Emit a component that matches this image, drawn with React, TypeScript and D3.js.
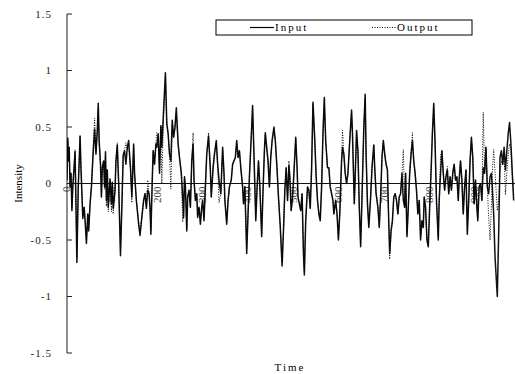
import React from "react";
import * as d3 from "d3";

// sample times
const times = [
  2, 4, 5, 7, 9, 11, 13, 15, 20, 24,
  27, 31, 33, 37, 40, 42, 45, 48, 50, 53,
  56, 60, 63, 66, 69, 71, 73, 76, 78, 80,
  83, 85, 87, 89, 91, 93, 95, 97, 100, 102,
  104, 108, 110, 113, 116, 120, 123, 126, 129, 132,
  135, 138, 142, 145, 149, 151, 155, 160, 163, 167,
  171, 174, 177, 180, 183, 185, 187, 190, 192, 195,
  198, 200, 203, 206, 209, 211, 215, 219, 222, 225,
  228, 231, 234, 237, 240, 243, 247, 250, 254, 257,
  259, 261, 263, 266, 268, 271, 274, 277, 280, 282,
  285, 288, 290, 293, 296, 299, 301, 304, 307, 310,
  314, 318, 320, 324, 327, 331, 334, 337, 341, 345,
  348, 350, 354, 357, 360, 364, 367, 370, 373, 376,
  379, 382, 385, 389, 391, 394, 398, 401, 404, 408,
  411, 414, 418, 421, 424, 427, 431, 434, 437, 439,
  442, 445, 448, 451, 454, 458, 461, 465, 468, 472,
  476, 479, 482, 485, 488, 491, 493, 496, 499, 502,
  506, 509, 511, 514, 517, 520, 523, 525, 528, 532,
  535, 538, 541, 544, 548, 551, 554, 557, 560, 563,
  566, 569, 572, 576, 579, 582, 585, 588, 590, 594,
  597, 600, 603, 607, 609, 612, 615, 618, 621, 625,
  629, 631, 635, 637, 640, 643, 646, 649, 652, 656,
  659, 661, 664, 667, 671, 674, 678, 680, 683, 687,
  690, 693, 696, 699, 702, 705, 708, 710, 713, 716,
  719, 722, 725, 728, 731, 734, 737, 740, 743, 746,
  748, 751, 754, 757, 760, 763, 766, 769, 772, 775,
  778, 781, 784, 787, 789, 792, 795, 798, 801, 804,
  807, 810, 813, 816, 820, 822, 825, 828, 831, 834,
  837, 840, 843, 846, 849, 852, 855, 858, 861, 864,
  866, 869, 872, 875, 878, 881, 884, 887, 890, 893,
  896, 899, 902, 905, 907, 910, 913, 916, 919, 922,
  925, 928, 931, 934, 937, 939, 942, 945, 950, 953,
  956, 959, 962, 965, 968, 971, 974, 977, 980, 983,
  986,
];

const inputValues = [
  0.03, 0.40, 0.20, 0.32, -0.03, 0.09, -0.24, -0.03, 0.28, -0.70,
  -0.03, 0.42, 0.14, -0.31, -0.21, -0.33, -0.53, -0.27, -0.42, -0.18,
  -0.03, 0.29, 0.48, 0.26, 0.47, 0.71, 0.38, 0.17, -0.12, 0.14,
  0.20, -0.03, 0.28, -0.15, 0.12, -0.21, -0.09, 0.04, -0.18, 0.01,
  -0.22, -0.06, 0.20, 0.34, 0.00, -0.64, -0.21, 0.25, 0.29, 0.17,
  0.32, 0.38, 0.14, -0.12, 0.35, 0.09, -0.15, -0.36, -0.46, -0.30,
  -0.15, -0.09, -0.22, -0.06, -0.09, -0.21, -0.45, 0.03, 0.29, 0.17,
  0.35, 0.32, 0.44, 0.09, 0.51, 0.32, 0.65, 0.98, 0.53, 0.44,
  0.26, 0.20, 0.56, 0.41, 0.50, 0.67, 0.35, 0.23, 0.09, -0.12,
  -0.30, 0.06, -0.03, -0.42, -0.12, -0.06, -0.21, 0.20, 0.35, 0.03,
  -0.15, -0.09, -0.30, -0.21, -0.36, -0.21, -0.15, -0.33, -0.03, 0.26,
  0.42, 0.12, -0.12, 0.14, 0.26, 0.38, 0.17, 0.03, -0.09, 0.32,
  0.09, -0.15, -0.36, -0.15, -0.03, 0.03, 0.17, 0.20, 0.23, 0.38,
  0.23, 0.29, 0.14, -0.03, -0.18, -0.03, -0.62, -0.27, 0.06, 0.41,
  0.69, 0.26, -0.33, -0.03, 0.20, -0.03, -0.47, -0.06, 0.29, 0.45,
  0.32, 0.20, -0.03, 0.23, 0.38, 0.50, 0.38, 0.12, -0.12, -0.39,
  -0.73, -0.42, -0.06, 0.14, -0.15, 0.16, 0.06, -0.24, -0.12, 0.09,
  0.41, 0.14, -0.12, -0.18, -0.24, -0.09, -0.62, -0.81, -0.33, -0.03,
  -0.06, -0.22, 0.14, 0.72, 0.38, 0.06, -0.15, -0.27, -0.33, -0.03,
  0.44, 0.76, 0.38, 0.14, 0.14, -0.03, -0.09, -0.15, -0.27, -0.15,
  -0.27, -0.50, -0.27, 0.20, 0.32, 0.26, 0.09, 0.00, 0.09, 0.38,
  0.65, 0.44, -0.18, 0.06, 0.47, 0.29, -0.21, -0.56, -0.12, 0.50,
  0.79, 0.26, -0.18, -0.39, -0.12, 0.14, 0.34, 0.14, -0.09, -0.21,
  -0.39, -0.12, 0.23, 0.38, 0.26, 0.17, 0.12, -0.21, -0.62, -0.42,
  -0.33, -0.12, -0.09, -0.15, -0.27, -0.12, -0.09, 0.09, -0.15, -0.21,
  0.09, -0.47, -0.21, 0.09, 0.26, 0.38, 0.20, 0.09, -0.06, -0.27,
  -0.15, -0.50, -0.33, -0.39, -0.12, -0.21, -0.50, -0.56, -0.21, 0.09,
  0.44, 0.71, 0.35, -0.15, -0.50, -0.15, 0.09, 0.29, 0.09, -0.06,
  0.06, 0.12, -0.09, 0.06, -0.06, 0.09, 0.17, 0.03, 0.06, -0.15,
  0.03, 0.20, 0.03, -0.27, -0.03, 0.12, -0.45, -0.15, 0.20, 0.41,
  0.23, -0.18, 0.03, -0.21, -0.33, -0.03, 0.00, -0.15, 0.14, 0.09,
  0.32, -0.03, -0.09, 0.06, 0.09, -0.03, -0.27, -0.65, -1.00, -0.45,
  0.23, 0.29, 0.17, 0.32, 0.12, 0.29, 0.44, 0.54, 0.35, 0.09,
  -0.15,
];

const outputValues = [
  0.03, 0.38, 0.20, 0.30, -0.03, 0.09, -0.22, -0.03, 0.30, -0.66,
  -0.03, 0.42, 0.12, -0.29, -0.21, -0.31, -0.50, -0.27, -0.40, -0.18,
  -0.03, 0.30, 0.58, 0.28, 0.47, 0.66, 0.38, 0.17, -0.12, 0.14,
  0.20, -0.05, 0.26, -0.20, 0.12, -0.25, -0.12, 0.04, -0.25, 0.01,
  -0.27, -0.06, 0.20, 0.36, 0.00, -0.60, -0.21, 0.25, 0.30, 0.36,
  0.30, 0.36, 0.14, -0.17, 0.33, 0.09, -0.15, -0.34, -0.44, -0.30,
  -0.15, -0.09, -0.20, 0.03, -0.09, -0.21, -0.42, 0.03, 0.29, 0.17,
  0.35, 0.45, 0.44, 0.09, 0.51, 0.00, 0.60, 0.95, 0.53, 0.44,
  0.26, -0.05, 0.52, 0.41, 0.48, 0.62, 0.35, 0.23, 0.09, -0.34,
  -0.28, 0.06, -0.03, -0.40, -0.12, -0.06, -0.21, 0.20, 0.45, 0.03,
  -0.15, -0.09, -0.28, -0.21, -0.34, -0.21, -0.15, -0.31, -0.03, 0.26,
  0.45, 0.12, -0.12, 0.14, 0.26, 0.36, 0.17, -0.17, -0.09, 0.30,
  0.09, -0.15, -0.34, -0.15, -0.03, 0.03, 0.17, 0.20, 0.23, 0.37,
  0.23, 0.29, 0.14, -0.03, -0.18, -0.02, -0.58, -0.27, 0.06, 0.41,
  0.66, 0.26, -0.31, -0.03, 0.20, -0.03, -0.45, -0.06, 0.29, 0.43,
  0.32, 0.20, -0.03, 0.23, 0.38, 0.48, 0.38, 0.12, -0.12, -0.37,
  -0.70, -0.42, -0.06, 0.14, -0.15, 0.20, 0.06, -0.24, -0.12, 0.09,
  0.40, 0.14, -0.12, -0.18, -0.24, -0.09, -0.60, -0.78, -0.33, -0.03,
  -0.06, -0.22, 0.14, 0.70, 0.38, 0.06, -0.15, -0.27, -0.31, -0.03,
  0.44, 0.74, 0.38, 0.14, 0.14, -0.03, -0.09, -0.15, -0.27, -0.15,
  -0.27, -0.48, -0.27, 0.20, 0.47, 0.26, 0.09, 0.00, 0.09, 0.38,
  0.62, 0.44, -0.18, 0.06, 0.45, 0.29, -0.21, -0.54, -0.12, 0.50,
  0.76, 0.26, -0.18, -0.37, -0.12, 0.14, 0.34, 0.14, -0.09, -0.21,
  -0.37, -0.12, 0.23, 0.38, 0.26, 0.17, 0.12, -0.21, -0.67, -0.42,
  -0.33, -0.12, -0.09, -0.15, -0.27, -0.12, -0.09, 0.09, 0.30, -0.21,
  0.09, -0.45, -0.21, 0.09, 0.26, 0.45, 0.20, 0.09, -0.06, -0.27,
  -0.15, -0.48, -0.33, -0.37, -0.12, -0.21, -0.48, -0.54, -0.21, 0.09,
  0.44, 0.68, 0.35, -0.15, -0.48, -0.15, 0.25, 0.29, 0.09, -0.06,
  0.06, 0.15, -0.09, 0.06, -0.06, 0.12, 0.17, 0.03, 0.06, -0.15,
  0.03, 0.20, 0.03, -0.25, -0.03, 0.12, -0.42, -0.15, 0.20, 0.39,
  0.23, -0.18, 0.03, -0.21, -0.31, -0.03, 0.00, -0.15, 0.63, 0.09,
  0.32, -0.03, -0.30, -0.50, -0.20, 0.10, 0.30, 0.10, -0.24, -0.15,
  0.10, 0.20, 0.17, 0.25, -0.10, 0.10, 0.25, 0.35, 0.30, 0.09,
  -0.10,
];

const yTicks = [-1.5, -1, -0.5, 0, 0.5, 1, 1.5];
const xTicks = [0, 100, 200, 300, 400, 500, 600, 700, 800, 900];

const font = "'Liberation Serif', 'Times New Roman', serif";

export default function App() {
  const width = 515;
  const height = 374;

  const x = d3.scaleLinear().domain([0, 1000]).range([66, 520]);
  const y = d3.scaleLinear().domain([-1.5, 1.5]).range([353, 14]);

  // line generator over the index, so times and values stay separate arrays
  const line = d3
    .line<number>()
    .x((d, i) => x(times[i]))
    .y((d) => y(d));

  const axisLeft = x(0) + 1;

  return (
    <svg
      width={width}
      height={height}
      style={{ position: "absolute", left: 0, top: 0, background: "#fff" }}
      fontFamily={font}
    >
      <defs>
        <clipPath id="plotClip">
          <rect x={axisLeft} y={0} width={width - axisLeft} height={height} />
        </clipPath>
      </defs>

      {/* y axis */}
      <line x1={axisLeft} x2={axisLeft} y1={y(1.5)} y2={y(-1.5)} stroke="#444" strokeWidth={1.2} />
      {yTicks.map((t) => (
        <g key={t}>
          <line x1={axisLeft} x2={axisLeft + 5} y1={y(t)} y2={y(t)} stroke="#222" strokeWidth={1} />
          <text
            x={52}
            y={y(t)}
            dy="0.35em"
            textAnchor="end"
            fontSize={11}
            letterSpacing={1}
            fill="#222"
          >
            {t}
          </text>
        </g>
      ))}

      {/* x tick labels sit under the data */}
      {xTicks.map((t) => (
        <text
          key={t}
          transform={`translate(${x(t)},${y(0) + 3}) rotate(-90)`}
          dy="0.35em"
          textAnchor="end"
          fontSize={11}
          fill="#444"
        >
          {t}
        </text>
      ))}

      {/* zero line */}
      <line x1={axisLeft} x2={width} y1={y(0)} y2={y(0)} stroke="#111" strokeWidth={1.2} />

      <g clipPath="url(#plotClip)">
        <path d={line(inputValues) || ""} fill="none" stroke="#111" strokeWidth={1.5} strokeLinejoin="round" />
        <path
          d={line(outputValues) || ""}
          fill="none"
          stroke="#000"
          strokeWidth={1}
          strokeDasharray="1,1.5"
        />
      </g>

      {/* legend */}
      <rect x={216} y={20} width={256} height={15} fill="#fff" stroke="#000" strokeWidth={1} />
      <line x1={250} x2={274} y1={27.5} y2={27.5} stroke="#000" strokeWidth={1.2} />
      <text x={275} y={27.5} dy="0.35em" fontSize={11} letterSpacing={2}>Input</text>
      <line x1={372} x2={396} y1={27.5} y2={27.5} stroke="#000" strokeWidth={1} strokeDasharray="1,1.5" />
      <text x={397} y={27.5} dy="0.35em" fontSize={11} letterSpacing={2}>Output</text>

      {/* axis titles */}
      <text x={290} y={367} dy="0.35em" textAnchor="middle" fontSize={11} letterSpacing={2}>Time</text>
      <text
        transform={`translate(18,${y(0)}) rotate(-90)`}
        dy="0.35em"
        textAnchor="middle"
        fontSize={11}
      >
        Intensity
      </text>
    </svg>
  );
}
